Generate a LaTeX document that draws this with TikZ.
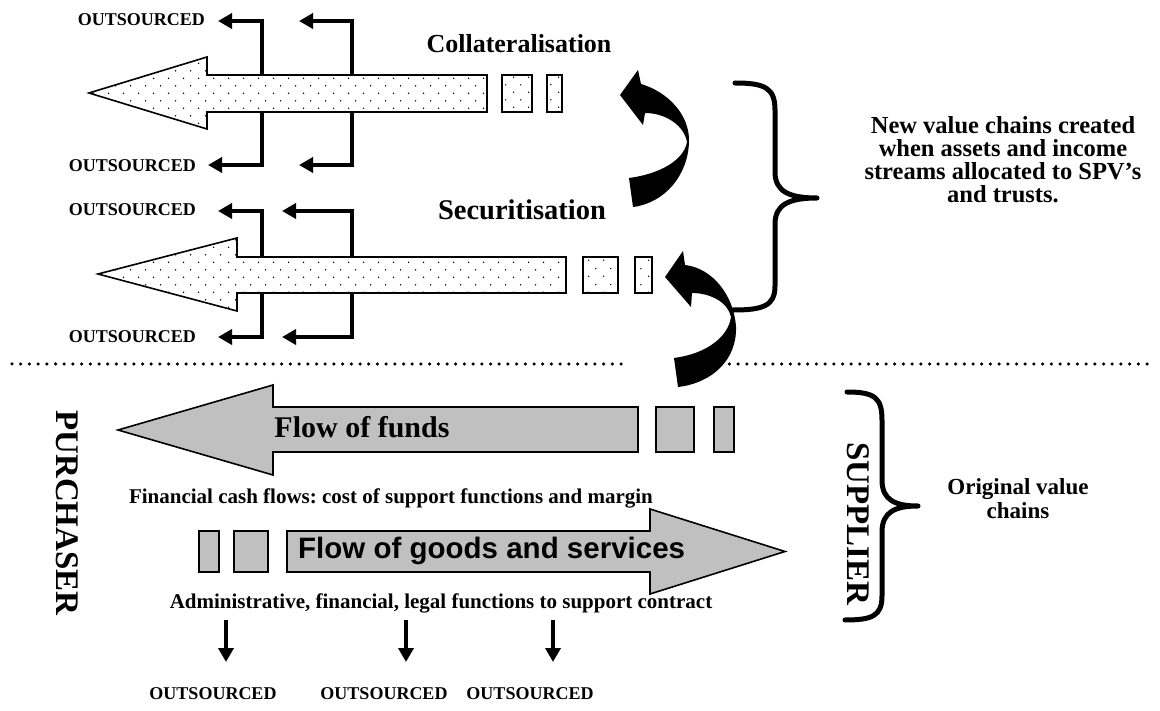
\documentclass[tikz,border=0pt]{standalone}
\usepackage{fontspec}
\setmainfont{Liberation Serif}
\newfontfamily\arialfont{Liberation Sans}
\usetikzlibrary{arrows.meta,patterns}
\frenchspacing
\pgfdeclarepatternformonly{sparsedots}{\pgfpointorigin}{\pgfpoint{15pt}{15.4pt}}{\pgfpoint{15pt}{15.4pt}}{%
  \pgfpathcircle{\pgfpoint{3.75pt}{3.85pt}}{0.8pt}%
  \pgfpathcircle{\pgfpoint{11.25pt}{11.55pt}}{0.8pt}%
  \pgfusepath{fill}}
\definecolor{boxgrey}{RGB}{192,192,192}
\begin{document}
\frenchspacing
\begin{tikzpicture}[x=1pt,y=-1pt,
  dotshape/.style={draw=black,line width=1.6pt,preaction={fill=white},pattern=sparsedots},
  greyshape/.style={draw=black,line width=1.6pt,fill=boxgrey},
  outarrow/.style={line width=4pt,line join=miter,-{Triangle[length=14pt,width=15pt]}},
  outtext/.style={font=\fontsize{18}{20}\selectfont\bfseries,inner sep=0pt},
  midtext/.style={font=\fontsize{21}{24}\selectfont\bfseries,inner sep=0pt},
  sidetext/.style={font=\fontsize{24.5}{23}\selectfont\bfseries,inner sep=0pt,align=center},
  vtext/.style={font=\fontsize{33}{36}\selectfont\bfseries,inner sep=0pt,rotate=-90},
  bracestyle/.style={line width=5pt,line cap=round,line join=round},
  dotline/.style={line width=3.5pt,line cap=round,dash pattern=on 0pt off 8.7pt}]
\useasboundingbox (0,0) rectangle (1160,711);

% ---------- top: collateralisation ----------
\node[outtext,anchor=east] (o1) at (205,20) {OUTSOURCED};
\node[outtext,anchor=east] (o2) at (196,166) {OUTSOURCED};
\coordinate (t1a) at (218,21);
\coordinate (t1b) at (299,21);
\coordinate (t1c) at (208,165);
\coordinate (t1d) at (299,165);
\draw[outarrow] (262,80) |- (t1a);
\draw[outarrow] (352,80) |- (t1b);
\draw[outarrow] (262,105) |- (t1c);
\draw[outarrow] (352,105) |- (t1d);
\path[dotshape] (89,93) -- (207,57) -- (207,75) -- (487,75) -- (487,112) -- (207,112) -- (207,129) -- cycle;
\path[dotshape] (502,75) rectangle (532,112);
\path[dotshape] (547,75) rectangle (562,112);
\node[font=\fontsize{26}{30}\selectfont\bfseries,inner sep=0pt] (coll) at (519,44) {Collateralisation};

% ---------- securitisation ----------
\node[outtext,anchor=east] (o3) at (196,210) {OUTSOURCED};
\node[outtext,anchor=east] (o4) at (196,337) {OUTSOURCED};
\coordinate (t2a) at (218,211);
\coordinate (t2b) at (282,211);
\coordinate (t2c) at (218,337);
\coordinate (t2d) at (282,337);
\draw[outarrow] (262,262) |- (t2a);
\draw[outarrow] (352,262) |- (t2b);
\draw[outarrow] (262,288) |- (t2c);
\draw[outarrow] (352,288) |- (t2d);
\path[dotshape] (98,274) -- (237,238) -- (237,257) -- (566,257) -- (566,293) -- (237,293) -- (237,311) -- cycle;
\path[dotshape] (583,257) rectangle (618,293);
\path[dotshape] (635,257) rectangle (652,293);
\node[font=\fontsize{28.5}{30}\selectfont\bfseries,inner sep=0pt] (secu) at (522,210) {Securitisation};

% ---------- curved arrows ----------
\fill (620,95) -- (638,70) -- (641,84)
  .. controls (668,92) and (690,115) .. (689,142)
  .. controls (688,175) and (665,203) .. (633,207)
  -- (629,178)
  .. controls (660,174) and (684,160) .. (687,142)
  .. controls (684,125) and (665,113) .. (645,113)
  -- (643,125) -- cycle;
\fill (665,277) -- (683,251) -- (685,265)
  .. controls (712,268) and (734,295) .. (736,327)
  .. controls (737,360) and (712,383) .. (678,387)
  -- (674,358)
  .. controls (705,354) and (728,338) .. (731,317)
  .. controls (728,302) and (710,293) .. (692,293)
  -- (691,307) -- cycle;

% ---------- braces ----------
\draw[bracestyle] (735,83) .. controls (765,83) and (775,88) .. (775,110) -- (775,172)
  .. controls (775,192) and (790,198) .. (817,198)
  .. controls (790,198) and (775,204) .. (775,224) -- (775,286)
  .. controls (775,306) and (763,310) .. (733,310);
\node[sidetext] (newv) at (1003,160) {New value chains created\\when assets and income\\streams allocated to SPV’s\\and trusts.};

\draw[bracestyle] (847,392) .. controls (875,392) and (882,398) .. (882,420) -- (882,480)
  .. controls (882,500) and (895,506) .. (918,506)
  .. controls (895,506) and (882,512) .. (882,532) -- (882,596)
  .. controls (882,616) and (872,620) .. (845,620);
\node[font=\fontsize{23}{24}\selectfont\bfseries,inner sep=0pt,align=center] (orig) at (1018,499) {Original value\\chains};

% ---------- dotted separator ----------
\coordinate (d1) at (12,364);
\coordinate (d2) at (628,364);
\coordinate (d3) at (712,364);
\coordinate (d4) at (1150,364);
\draw[dotline] (d1) -- (d2);
\draw[dotline] (d3) -- (d4);

% ---------- lower part ----------
\node[vtext] (purch) at (67,513) {PURCHASER};
\node[vtext] (supp) at (858,524) {SUPPLIER};

\path[greyshape] (118,430) -- (273,385) -- (273,407) -- (638,407) -- (638,452) -- (273,452) -- (273,475) -- cycle;
\path[greyshape] (656,407) rectangle (694,452);
\path[greyshape] (714,407) rectangle (734,452);
\node[font=\fontsize{30}{32}\selectfont\bfseries,inner sep=0pt] (funds) at (362,427) {Flow of funds};
\node[midtext] (fin) at (391,498) {Financial cash flows: cost of support functions and margin};

\path[greyshape] (199,531) rectangle (219,572);
\path[greyshape] (234,531) rectangle (268,572);
\path[greyshape] (287,531) -- (650,531) -- (650,509) -- (785,551.5) -- (650,594) -- (650,572) -- (287,572) -- cycle;
\node[font=\fontsize{29.5}{32}\arialfont\bfseries,inner sep=0pt,anchor=west] (goods) at (298,551) {Flow of goods and services};

\node[midtext] (adm) at (441,603) {Administrative, financial, legal functions to support contract};
\node[outtext] (o5) at (213,694) {OUTSOURCED};
\node[outtext] (o6) at (384,694) {OUTSOURCED};
\node[outtext] (o7) at (530,694) {OUTSOURCED};
\draw[outarrow] (226,620) -- (226,662);
\draw[outarrow] (406,620) -- (406,662);
\draw[outarrow] (553,620) -- (553,662);
\end{tikzpicture}
\end{document}
